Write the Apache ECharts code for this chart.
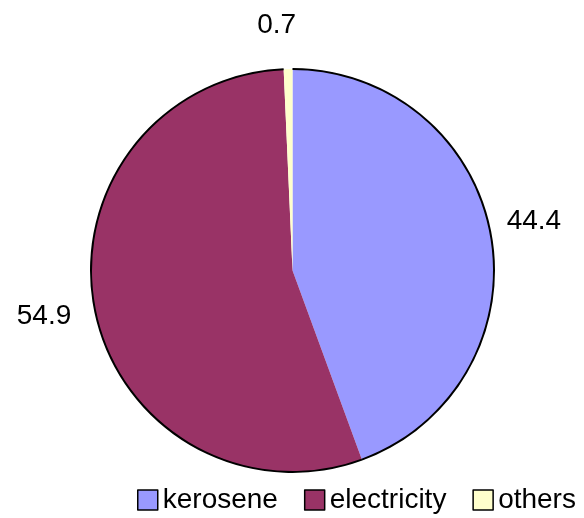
<!DOCTYPE html>
<html>
<head>
<meta charset="utf-8">
<script src="https://cdn.jsdelivr.net/npm/echarts@6/dist/echarts.min.js"></script>
<style>html,body{margin:0;padding:0;background:#fff}#c{width:584px;height:518px}</style>
</head>
<body>
<div id="c"></div>
<script>
const categories = ['kerosene', 'electricity', 'others'];
const values = [44.4, 54.9, 0.7];
const colors = ['#9999FF', '#993366', '#FFFFCC'];
const outlineColors = ['#000', '#000', 'rgba(0,0,0,0)'];
const labelLen = [15, 15, 45];
const labelNudge = [[-4, -11], [-4, 3], [14, 1]];

const chart = echarts.init(document.getElementById('c'), null, {renderer: 'canvas'});
chart.setOption({
  animation: false,
  backgroundColor: '#fff',
  legend: {
    left: 137, top: 486, width: 447, padding: 0,
    itemWidth: 20, itemHeight: 20, itemGap: 26,
    icon: 'rect',
    itemStyle: {borderColor: '#000', borderWidth: 1.5},
    textStyle: {fontFamily: 'Liberation Sans', fontSize: 28, color: '#000', padding: [12, 0, 0, 0]},
    data: categories
  },
  series: [{
    type: 'pie',
    name: 'main',
    center: [292.5, 270.5],
    radius: 201.5,
    startAngle: 90,
    clockwise: true,
    avoidLabelOverlap: false,
    itemStyle: {borderWidth: 0},
    label: {
      show: true, position: 'outside',
      fontFamily: 'Liberation Sans', fontSize: 28, color: '#000',
      formatter: p => p.value.toFixed(1)
    },
    labelLine: {show: false, length2: 0},
    labelLayout: p => ({dx: labelNudge[p.dataIndex][0], dy: labelNudge[p.dataIndex][1]}),
    data: categories.map((c, i) => ({
      name: c, value: values[i],
      itemStyle: {color: colors[i]},
      labelLine: {show: false, length: labelLen[i], length2: 0}
    }))
  }, {
    type: 'pie',
    name: 'outline',
    silent: true,
    legendHoverLink: false,
    center: [292.5, 270.5],
    radius: [200.5, 202.5],
    startAngle: 90,
    clockwise: true,
    label: {show: false},
    labelLine: {show: false},
    itemStyle: {borderWidth: 0},
    emphasis: {disabled: true},
    data: categories.map((c, i) => ({
      name: 'outline-' + c, value: values[i],
      itemStyle: {color: outlineColors[i]}
    }))
  }]
});
</script>
</body>
</html>
